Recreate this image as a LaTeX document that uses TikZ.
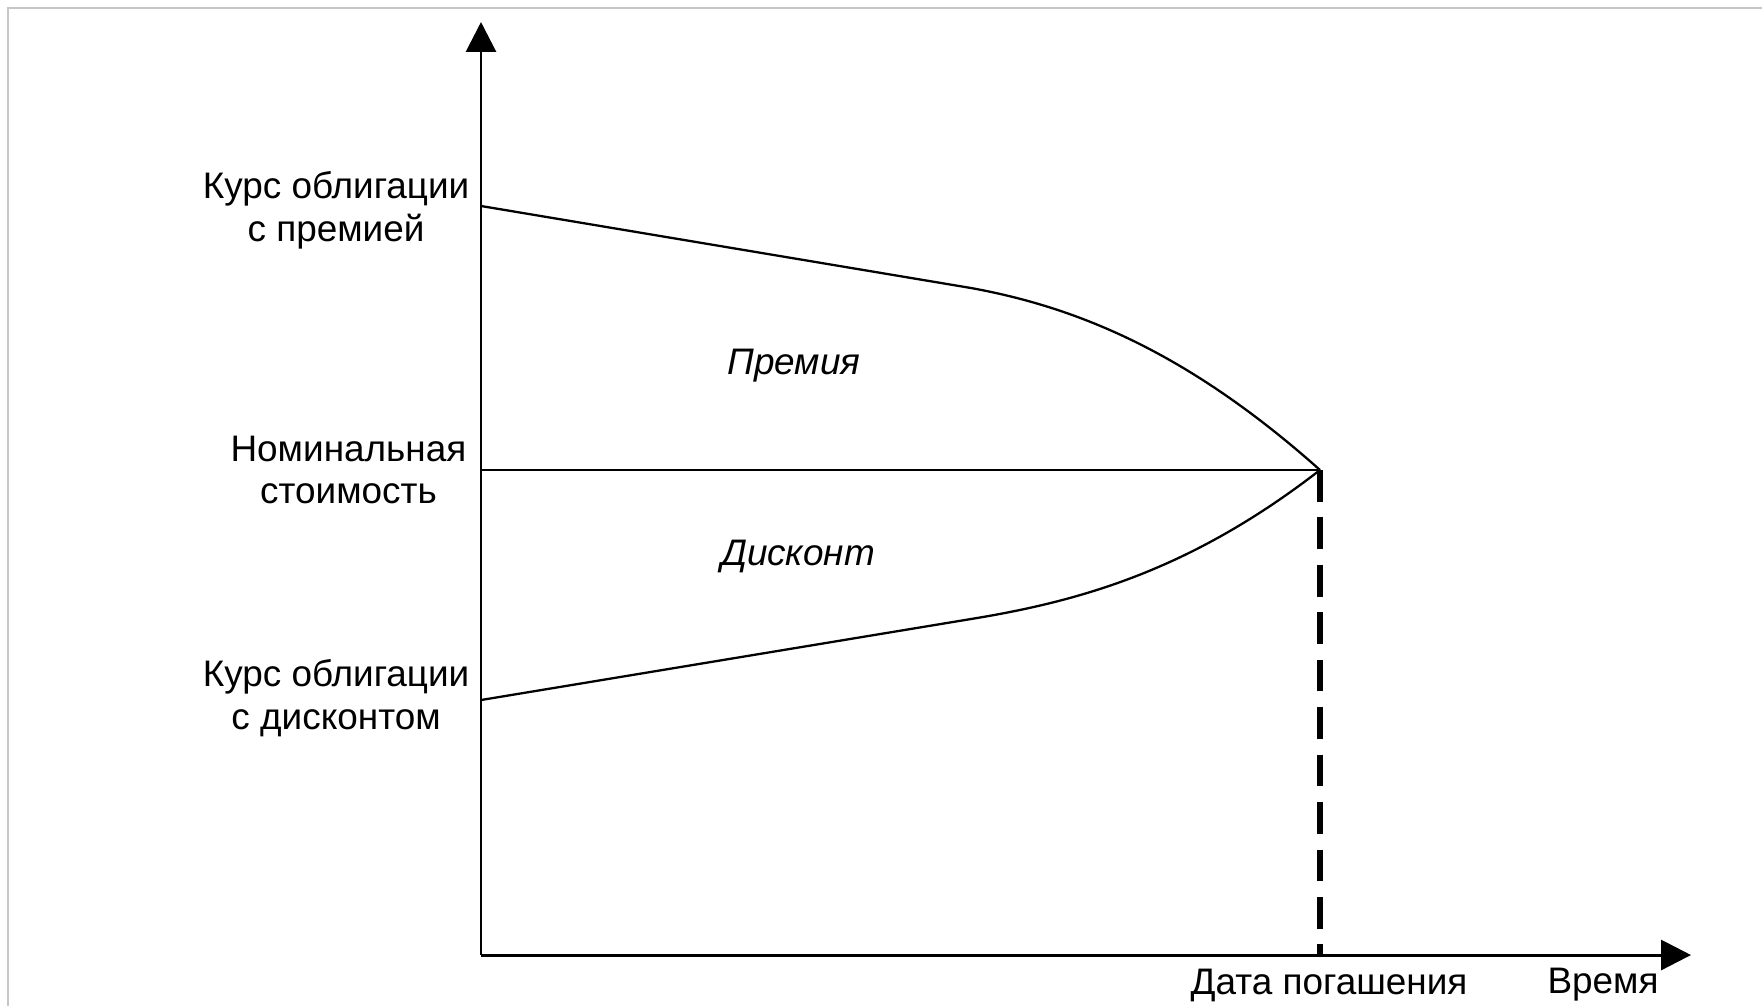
\documentclass[tikz,border=0pt]{standalone}
\usepackage{fontspec}
\setmainfont{Liberation Sans}
\usetikzlibrary{arrows.meta}

\begin{document}
\begin{tikzpicture}[
  font=\fontsize{10.5}{12.2}\selectfont,
  >={Triangle[length=8.5pt, width=8.5pt]},
  axis/.style={->, draw=black, line width=0.85pt},
  curve/.style={draw=black, line width=0.65pt},
  guide/.style={draw=black, line width=1.5pt, dash pattern=on 9pt off 4.5pt},
  frame/.style={draw=black!22, line width=0.6pt},
  lab/.style={align=center, inner sep=0pt},
  area/.style={font=\fontsize{10.5}{12.2}\selectfont\itshape, inner sep=0pt}
]
\path[use as bounding box, fill=white] (-4.81,-0.51) rectangle (12.81,9.55);
\draw[frame] (-4.73,-0.51) -- (-4.73,9.47) -- (12.81,9.47);

\coordinate (O) at (0,0);
\coordinate (ytop) at (0,9.33);
\coordinate (xend) at (12.10,0);
\coordinate (prem) at (0,7.49);
\coordinate (nom) at (0,4.85);
\coordinate (disc) at (0,2.55);
\coordinate (mat) at (8.39,4.85);
\coordinate (matfoot) at (8.39,0);

\draw[axis] (O) -- (ytop);
\draw[axis] (O) -- (xend);

\draw[curve] (nom) -- (mat);
\draw[curve] (prem) -- (4.9,6.67) .. controls (6.0,6.47) and (7.1,6.0) .. (mat);
\draw[curve] (disc) -- (4.9,3.36) .. controls (6.0,3.54) and (7.1,3.85) .. (mat);
\draw[guide] (mat) -- (matfoot);

\node[lab, anchor=east] (lprem) at (-0.11,7.45) {Курс облигации\\с премией};
\node[lab, anchor=east] (lnom) at (-0.14,4.85) {Номинальная\\стоимость};
\node[lab, anchor=east] (ldisc) at (-0.11,2.57) {Курс облигации\\с дисконтом};

\node[area] (lpremia) at (3.13,5.89) {Премия};
\node[area] (ldiscount) at (3.17,3.99) {Дисконт};

\node[lab] (ldate) at (8.48,-0.30) {Дата погашения};
\node[lab] (ltime) at (11.22,-0.30) {Время};
\end{tikzpicture}
\end{document}
